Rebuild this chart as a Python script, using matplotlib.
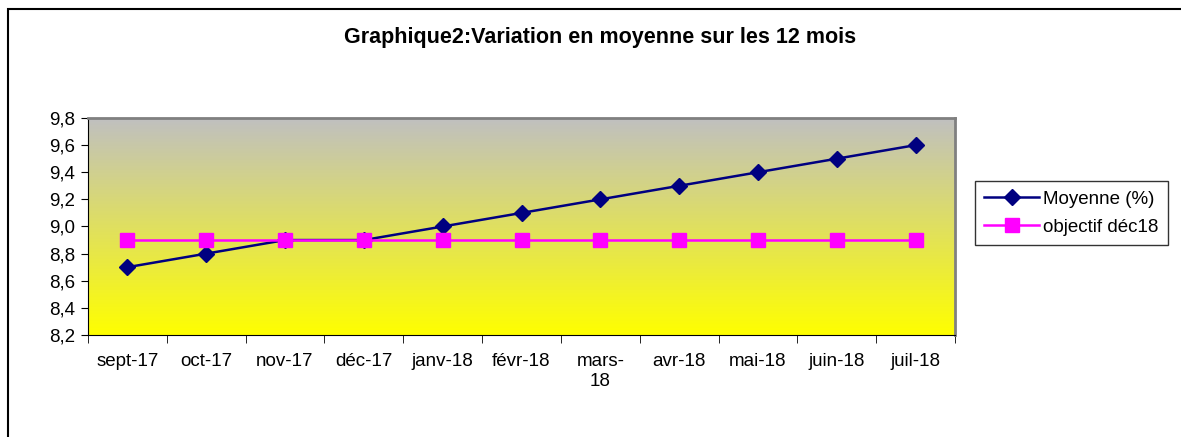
import numpy as np
import matplotlib.pyplot as plt
from matplotlib.colors import LinearSegmentedColormap
from matplotlib.patches import Rectangle

# --- Données ---
mois = ['sept-17', 'oct-17', 'nov-17', 'déc-17', 'janv-18', 'févr-18',
        'mars-\n18', 'avr-18', 'mai-18', 'juin-18', 'juil-18']
moyenne = [8.7, 8.8, 8.9, 8.9, 9.0, 9.1, 9.2, 9.3, 9.4, 9.5, 9.6]
objectif = [8.9, 8.9, 8.9, 8.9, 8.9, 8.9, 8.9, 8.9, 8.9, 8.9, 8.9]
y_ticks = [8.2, 8.4, 8.6, 8.8, 9.0, 9.2, 9.4, 9.6, 9.8]

plt.rcParams['font.family'] = ['Liberation Sans', 'DejaVu Sans']
FS = 13.5

fig = plt.figure(figsize=(11.81, 4.37), dpi=100)
# cadre du graphique
fig.patches.append(Rectangle((8 / 1181, -0.1), 1.2, 1 - 9 / 437 + 0.1,
                             transform=fig.transFigure, fill=False,
                             edgecolor='black', linewidth=1.5))

ax = fig.add_axes([88 / 1181, 1 - 335 / 437, (955 - 88) / 1181, (335 - 118) / 437])

# fond dégradé gris -> jaune
cmap = LinearSegmentedColormap.from_list('fond', ['#ffff00', '#c0c0c0'])
grad = np.linspace(0, 1, 256).reshape(-1, 1)
ax.imshow(grad, cmap=cmap, aspect='auto', origin='lower',
          extent=[0, 1, 0, 1], transform=ax.transAxes, zorder=0)

x = np.arange(len(mois))
ax.plot(x, moyenne, color='#000080', marker='D', markersize=8, linewidth=1.8,
        label='Moyenne (%)', zorder=2)
ax.plot(x, objectif, color='#ff00ff', marker='s', markersize=10, linewidth=1.8,
        label='objectif déc18', zorder=3)

ax.set_xlim(-0.5, len(mois) - 0.5)
ax.set_ylim(8.2, 9.8)
ax.set_yticks(y_ticks)
ax.set_yticklabels([f'{v:.1f}'.replace('.', ',') for v in y_ticks])
ax.set_xticks(x)
ax.set_xticklabels(mois, va='top', linespacing=1.25)
ax.set_xticks(np.arange(-0.5, len(mois), 1), minor=True)
ax.tick_params(axis='x', which='major', length=0, pad=13, labelsize=FS)
ax.tick_params(axis='x', which='minor', length=6, direction='out')
ax.tick_params(axis='y', length=5, labelsize=FS, pad=4)

for side in ['top', 'right']:
    ax.spines[side].set_color('#808080')
    ax.spines[side].set_linewidth(2)
for side in ['left', 'bottom']:
    ax.spines[side].set_color('black')

fig.text(600 / 1181, 1 - 38 / 437, 'Graphique2:Variation en moyenne sur les 12 mois',
         ha='center', va='center', fontsize=15.5, fontweight='bold')

leg = ax.legend(loc='upper left', bbox_to_anchor=(975 / 1181, 1 - 181 / 437),
                bbox_transform=fig.transFigure, fontsize=FS, frameon=True,
                fancybox=False, edgecolor='black', borderaxespad=0,
                handlelength=2.9, labelspacing=0.6, borderpad=0.5,
                handletextpad=0.25)
leg.get_frame().set_linewidth(1)

fig.savefig('out.png', dpi=100)
